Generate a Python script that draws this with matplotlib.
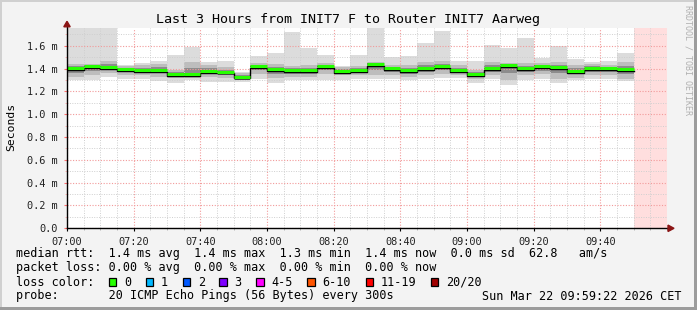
import matplotlib
matplotlib.use("Agg")
import matplotlib.pyplot as plt
import numpy as np
from matplotlib.patches import Rectangle, Polygon
from matplotlib.lines import Line2D

# ---- data (minutes after 07:00, 5-minute bins; values in ms) ----
bin_start = [0, 5, 10, 15, 20, 25, 30, 35, 40, 45, 50, 55, 60, 65, 70, 75, 80,
             85, 90, 95, 100, 105, 110, 115, 120, 125, 130, 135, 140, 145, 150,
             155, 160, 165]
median = [1.40, 1.415, 1.41, 1.395, 1.38, 1.385, 1.35, 1.35, 1.377, 1.37, 1.325,
          1.418, 1.39, 1.383, 1.383, 1.418, 1.377, 1.383, 1.435, 1.40, 1.383,
          1.40, 1.418, 1.383, 1.348, 1.40, 1.427, 1.40, 1.415, 1.407, 1.377,
          1.40, 1.40, 1.39]
ping_min = [1.30, 1.30, 1.33, 1.31, 1.31, 1.29, 1.275, 1.30, 1.28, 1.28, 1.285,
            1.31, 1.275, 1.30, 1.30, 1.30, 1.30, 1.31, 1.31, 1.31, 1.30, 1.31,
            1.32, 1.32, 1.27, 1.31, 1.257, 1.30, 1.31, 1.27, 1.30, 1.31, 1.31,
            1.29]
ping_max = [1.80, 1.80, 1.80, 1.43, 1.45, 1.47, 1.52, 1.59, 1.46, 1.465, 1.37,
            1.506, 1.535, 1.72, 1.58, 1.515, 1.42, 1.515, 1.80, 1.50, 1.51, 1.62,
            1.73, 1.47, 1.47, 1.608, 1.58, 1.667, 1.497, 1.594, 1.485, 1.46,
            1.47, 1.535]
ping_p20 = [1.33, 1.34, 1.36, 1.34, 1.34, 1.33, 1.32, 1.32, 1.33, 1.32, 1.31,
            1.35, 1.32, 1.33, 1.33, 1.35, 1.34, 1.34, 1.34, 1.34, 1.33, 1.34,
            1.35, 1.34, 1.31, 1.34, 1.30, 1.34, 1.35, 1.31, 1.32, 1.34, 1.34,
            1.31]
ping_p80 = [1.44, 1.44, 1.47, 1.42, 1.43, 1.44, 1.39, 1.46, 1.43, 1.41, 1.36,
            1.45, 1.44, 1.42, 1.43, 1.45, 1.41, 1.42, 1.46, 1.43, 1.43, 1.46,
            1.47, 1.43, 1.39, 1.46, 1.45, 1.45, 1.45, 1.46, 1.43, 1.44, 1.43,
            1.46]
bin_width = 5
x_ticks = [0, 20, 40, 60, 80, 100, 120, 140, 160]
x_tick_labels = ["07:00", "07:20", "07:40", "08:00", "08:20", "08:40",
                 "09:00", "09:20", "09:40"]
y_ticks = [0.0, 0.2, 0.4, 0.6, 0.8, 1.0, 1.2, 1.4, 1.6]
y_tick_labels = ["0.0", "0.2 m", "0.4 m", "0.6 m", "0.8 m", "1.0 m",
                 "1.2 m", "1.4 m", "1.6 m"]
unknown_span = (170, 180)

loss_labels = ["0", "1", "2", "3", "4-5", "6-10", "11-19", "20/20"]
loss_colors = ["#26ff00", "#00b8ff", "#0059ff", "#7e00ff", "#ff00ff",
               "#ff5500", "#ff0000", "#a10000"]

title = "Last 3 Hours from INIT7 F to Router INIT7 Aarweg"
row_rtt = "median rtt:  1.4 ms avg  1.4 ms max  1.3 ms min  1.4 ms now  0.0 ms sd  62.8   am/s"
row_loss = "packet loss: 0.00 % avg  0.00 % max  0.00 % min  0.00 % now"
row_probe = "probe:       20 ICMP Echo Pings (56 Bytes) every 300s"
stamp = "Sun Mar 22 09:59:22 2026 CET"

# ---- figure ----
W, H = 697, 310
MONO = "DejaVu Sans Mono"
fig = plt.figure(figsize=(W / 100, H / 100), dpi=100, facecolor="#f3f3f3")

def fx(px):
    return px / W

def fy(py):
    return 1 - py / H

ax_left, ax_right, ax_top, ax_bot = 67, 667, 28.3, 228.3
ax = fig.add_axes([fx(ax_left), fy(ax_bot), (ax_right - ax_left) / W,
                   (ax_bot - ax_top) / H])
ax.set_facecolor("white")
ax.set_xlim(0, 180)
ax.set_ylim(0, 1.753)

edges = np.append(np.array(bin_start, float), bin_start[-1] + bin_width)

def st(a):
    a = np.asarray(a, float)
    return np.append(a, a[-1])

lo, hi = np.array(ping_min), np.array(ping_max)
p20, p80, med = np.array(ping_p20), np.array(ping_p80), np.array(median)

ax.axvspan(*unknown_span, color="#ffdede", lw=0, zorder=0.3)
ax.fill_between(edges, st(lo), st(hi), step="post", color="#dcdcdc", lw=0, zorder=1)
ax.fill_between(edges, st(p20), st(p80), step="post", color="#bdbdbd", lw=0, zorder=1.1)
ax.fill_between(edges, st((p20 + med) / 2), st((p80 + med) / 2), step="post",
                color="#8c8c8c", lw=0, zorder=1.2)
ax.fill_between(edges, st(med - 0.022), st(med + 0.012), step="post",
                color="#555555", lw=0, zorder=1.3)
ax.step(edges, st(med - 0.012), where="post", color="black", lw=1.0, zorder=3)
ax.hlines(med + 0.004, edges[:-1], edges[1:], color=loss_colors[0], lw=2.2, zorder=3.1)

ax.set_xticks(x_ticks)
ax.set_xticklabels(x_tick_labels)
ax.set_xticks(np.arange(0, 181, 5), minor=True)
ax.set_yticks(y_ticks)
ax.set_yticklabels(y_tick_labels)
ax.set_yticks(np.arange(0, 1.75, 0.1), minor=True)
for lab in ax.get_xticklabels() + ax.get_yticklabels():
    lab.set_fontfamily(MONO)
    lab.set_fontsize(7.4)
    lab.set_color("#222222")
ax.tick_params(axis="x", which="major", length=2.5, width=0.8, color="black", pad=4)
ax.tick_params(axis="x", which="minor", length=1.5, width=0.6, color="#aaaaaa")
ax.tick_params(axis="y", which="major", length=2.5, width=0.8, color="#ff7070", pad=4)
ax.tick_params(axis="y", which="minor", length=1.5, width=0.6, color="#ffaaaa")

ax.set_axisbelow(False)
ax.grid(which="minor", color="#cfcfcf", ls=(0, (1, 1.5)), lw=0.7)
ax.grid(which="major", color="#f29a9a", ls=(0, (1, 1.5)), lw=0.8)
for s in ax.spines.values():
    s.set_visible(False)

# axes lines + arrows
tr = ax.transAxes
axw, axh = ax_right - ax_left, ax_bot - ax_top
ax.add_line(Line2D([0, 1 + 1.5 / axw], [0, 0], transform=tr, color="black",
                   lw=1.0, clip_on=False, zorder=5))
ax.add_line(Line2D([0, 0], [0, 1 + 3 / axh], transform=tr, color="black",
                   lw=1.0, clip_on=False, zorder=5))
arrow_col = "#8b1515"
ax.add_patch(Polygon([[1 + 7 / axw, 0], [1 + 1 / axw, 3.2 / axh], [1 + 1 / axw, -3.2 / axh]],
                     closed=True, transform=tr, color=arrow_col, clip_on=False, zorder=6))
ax.add_patch(Polygon([[0, 1 + 7 / axh], [3.2 / axw, 1 + 1.5 / axh], [-3.2 / axw, 1 + 1.5 / axh]],
                     closed=True, transform=tr, color=arrow_col, clip_on=False, zorder=6))

# ---- text ----
fig.text(fx(348.5), fy(20), title, family=MONO, fontsize=9.6, ha="center",
         va="center", color="black")
fig.text(fx(11), fy(127), "Seconds", family=MONO, fontsize=8.2, rotation=90,
         ha="center", va="center", color="black")
fig.text(fx(688), fy(60), "RRDTOOL / TOBI OETIKER", family=MONO, fontsize=6.0,
         rotation=270, ha="center", va="center", color="#b0b0b0")

LFS = 8.5
fig.text(fx(16), fy(254), row_rtt, family=MONO, fontsize=LFS, va="center", ha="left")
fig.text(fx(16), fy(268), row_loss, family=MONO, fontsize=LFS, va="center", ha="left")
fig.text(fx(16), fy(282), "loss color:", family=MONO, fontsize=LFS, va="center", ha="left")
fig.text(fx(16), fy(296), row_probe, family=MONO, fontsize=LFS, va="center", ha="left")
fig.text(fx(681), fy(296), stamp, family=MONO, fontsize=LFS, va="center", ha="right")

box_x = [108.7, 145.7, 182.7, 219.3, 256, 307.3, 365.7, 430.7]
for bx, lab, col in zip(box_x, loss_labels, loss_colors):
    fig.patches.append(Rectangle((fx(bx), fy(285.5)), 7.5 / W, 7.5 / H,
                                 transform=fig.transFigure, facecolor=col,
                                 edgecolor="black", lw=0.9))
    fig.text(fx(bx + 15.3), fy(282), lab, family=MONO, fontsize=LFS,
             va="center", ha="left")

# ---- frame ----
fig.patches.append(Rectangle((0, 1 - 2 / H), 1, 2 / H, transform=fig.transFigure,
                             facecolor="#d0d0d0", lw=0))
fig.patches.append(Rectangle((0, 0), 2 / W, 1, transform=fig.transFigure,
                             facecolor="#d0d0d0", lw=0))
fig.patches.append(Rectangle((0, 0), 1, 3 / H, transform=fig.transFigure,
                             facecolor="#9c9c9c", lw=0))
fig.patches.append(Rectangle((1 - 3 / W, 0), 3 / W, 1, transform=fig.transFigure,
                             facecolor="#9c9c9c", lw=0))

fig.savefig("out.png", dpi=100, facecolor=fig.get_facecolor())
